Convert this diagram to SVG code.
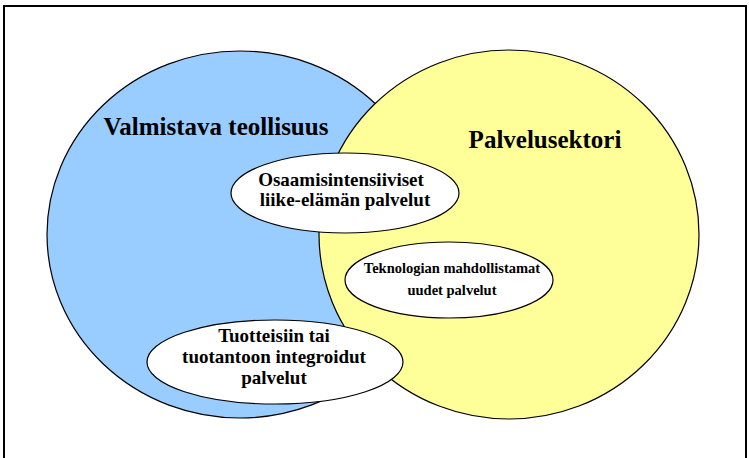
<svg xmlns="http://www.w3.org/2000/svg" width="749" height="458" viewBox="0 0 749 458">
<style>
.circle{stroke:#000;stroke-width:1.2}
.oval{fill:#fff;stroke:#000;stroke-width:1.2}
text{font-family:'Liberation Serif','DejaVu Serif',serif;font-weight:bold;fill:#000;text-anchor:middle}
.big{font-size:25px}
.mid{font-size:19px}
.tnr{font-size:14.5px}
</style>
<rect x="4" y="6" width="742" height="470" fill="#fff" stroke="#000" stroke-width="2"/>
<g id="valmistava">
<ellipse class="circle" cx="240" cy="234.5" rx="193" ry="183.5" fill="#99ccff"/>
</g>
<g id="palvelusektori">
<ellipse class="circle" cx="509" cy="234.5" rx="190" ry="184.5" fill="#ffff99"/>
</g>
<g id="valmistava-label">
<text class="big" x="216" y="135">Valmistava teollisuus</text>
</g>
<g id="palvelusektori-label">
<text class="big" x="545" y="148">Palvelusektori</text>
</g>
<g id="osaamis">
<ellipse class="oval" cx="345" cy="193" rx="114" ry="40"/>
<text class="mid" x="341" y="186">Osaamisintensiiviset</text>
<text class="mid" x="345" y="206">liike-elämän palvelut</text>
</g>
<g id="teknologia">
<ellipse class="oval" cx="449" cy="280" rx="104" ry="38"/>
<text class="tnr" x="452" y="273">Teknologian mahdollistamat</text>
<text class="tnr" x="452" y="295">uudet palvelut</text>
</g>
<g id="tuotteisiin">
<ellipse class="oval" cx="275" cy="362" rx="128" ry="42"/>
<text class="mid" x="274" y="342">Tuotteisiin tai</text>
<text class="mid" x="274" y="363">tuotantoon integroidut</text>
<text class="mid" x="274" y="384">palvelut</text>
</g>
<g id="connectors"></g>
</svg>
